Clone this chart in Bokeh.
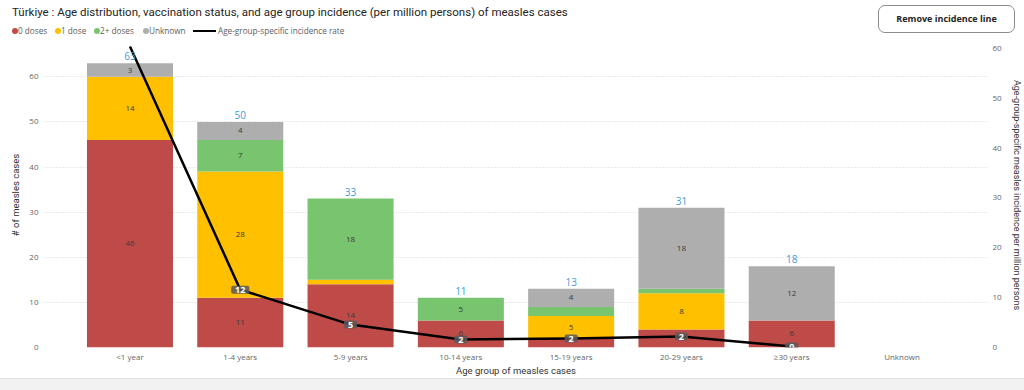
from bokeh.plotting import figure
from bokeh.layouts import column
from bokeh.models import (ColumnDataSource, FactorRange, Range1d, LinearAxis, LabelSet,
                          Label, FixedTicker, Div)
from bokeh.embed import file_html
from bokeh.resources import INLINE
from bokeh.core.properties import value

# ---------------- data ----------------
categories = ["<1 year", "1-4 years", "5-9 years", "10-14 years", "15-19 years",
              "20-29 years", "\u226530 years", "Unknown"]
dose0 = [46, 11, 14, 6, 2, 4, 6, 0]
dose1 = [14, 28, 1, 0, 5, 8, 0, 0]
dose2 = [0, 7, 18, 5, 2, 1, 0, 0]
unknown = [3, 4, 0, 0, 4, 18, 12, 0]
incidence_cats = categories[:7]
incidence = [60.4, 11.6, 4.6, 1.6, 1.8, 2.2, 0.2]
y_ticks = [0, 10, 20, 30, 40, 50, 60]

series_names = ["0 doses", "1 dose", "2+ doses", "Unknown"]
series_keys = ["d0", "d1", "d2", "unk"]
series_colors = ["#BE4B48", "#FFC000", "#79C46E", "#AEAEAE"]

title_text = ("T\u00fcrkiye : Age distribution, vaccination status, and age group incidence "
              "(per million persons) of measles cases")
line_legend_text = "Age-group-specific incidence rate"
button_text = "Remove incidence line"

FONT = "Open Sans"
TFONT = "Roboto"
W = 1024

# ---------------- header (title, legend, button) ----------------
legend_dot_x = [12, 55, 94, 143]
parts = [
    '<div style="position:relative;width:%dpx;height:42px;background:white;overflow:hidden;">' % W,
    '<span style="position:absolute;left:12px;top:5px;font-family:%s;font-size:11.5px;'
    'line-height:14px;color:#252423;white-space:nowrap;">%s</span>' % (TFONT, title_text),
]
for name, col, dx in zip(series_names, series_colors, legend_dot_x):
    parts.append('<span style="position:absolute;left:%dpx;top:28px;width:6px;height:6px;'
                 'border-radius:50%%;background:%s;"></span>' % (dx, col))
    parts.append('<span style="position:absolute;left:%dpx;top:25px;font-family:%s;font-size:8.2px;'
                 'line-height:12px;color:#605E5C;white-space:nowrap;">%s</span>'
                 % (dx + 6, FONT, name))
parts.append('<span style="position:absolute;left:193px;top:30px;width:23px;height:2px;'
             'background:black;"></span>')
parts.append('<span style="position:absolute;left:218px;top:25px;font-family:%s;font-size:8.2px;'
             'line-height:12px;color:#605E5C;white-space:nowrap;">%s</span>' % (FONT, line_legend_text))
parts.append('<div style="position:absolute;left:878px;top:5px;width:137px;height:28px;'
             'box-sizing:border-box;border:1px solid #8c8c8c;border-radius:7px;background:white;'
             'display:flex;align-items:center;justify-content:center;font-family:%s;'
             'font-size:9px;font-weight:bold;color:#252423;white-space:nowrap;">%s</div>'
             % (FONT, button_text))
parts.append('</div>')
header = Div(text="".join(parts), width=W, height=42, margin=(0, 0, 0, 0))

# ---------------- main chart ----------------
p = figure(width=W, height=336,
           x_range=FactorRange(factors=categories, range_padding=0.275, range_padding_units="absolute"),
           y_range=Range1d(0, 67.6),
           output_backend="svg", toolbar_location=None,
           min_border_left=44, min_border_right=36, min_border_top=0, min_border_bottom=28)
p.extra_y_ranges = {"inc": Range1d(0, 61.2)}
p.outline_line_color = None
p.background_fill_color = "white"
p.border_fill_color = "white"
p.margin = (0, 0, 0, 0)

src = ColumnDataSource(dict(age=categories, d0=dose0, d1=dose1, d2=dose2, unk=unknown))
p.vbar_stack(series_keys, x="age", width=0.78, fill_color=series_colors,
             line_color=None, source=src)

# segment labels
seg_x, seg_y, seg_t = [], [], []
for i, c in enumerate(categories):
    base = 0
    for vals in (dose0, dose1, dose2, unknown):
        v = vals[i]
        if v >= 3:
            seg_x.append(c)
            seg_y.append(base + v / 2)
            seg_t.append(str(v))
        base += v
seg_src = ColumnDataSource(dict(x=seg_x, y=seg_y, t=seg_t))
p.add_layout(LabelSet(x="x", y="y", text="t", source=seg_src, text_align="center",
                      text_baseline="middle", text_font=value(FONT), text_font_size="8px",
                      text_color="#3a3a3a"))

# total labels
tot_x, tot_y, tot_t = [], [], []
for i, c in enumerate(categories):
    t = dose0[i] + dose1[i] + dose2[i] + unknown[i]
    if t > 0:
        tot_x.append(c)
        tot_y.append(t)
        tot_t.append(str(t))
tot_src = ColumnDataSource(dict(x=tot_x, y=tot_y, t=tot_t))
p.add_layout(LabelSet(x="x", y="y", text="t", source=tot_src, text_align="center",
                      text_baseline="bottom", y_offset=3, text_font=value(FONT),
                      text_font_size="10px", text_color="#3F9BD8"))

# incidence line
p.line(x=incidence_cats, y=incidence, y_range_name="inc", line_color="black",
       line_width=2.5, line_join="round")
for i, v in enumerate(incidence):
    if v < 55:
        # synthetic coordinate of category i on the factor range is i + 0.5
        p.add_layout(Label(x=i + 0.5, y=v, y_range_name="inc", text=str(int(round(v))),
                           text_align="center", text_baseline="middle",
                           text_font=FONT, text_font_size="9px",
                           text_font_style="bold", text_color="white",
                           background_fill_color="#5a5a5a", background_fill_alpha=0.85,
                           padding=(4, 1), border_radius=2))

# axes
p.ygrid.grid_line_color = "#d4d4d4"
p.ygrid.grid_line_dash = "1 2"
p.xgrid.grid_line_color = None

yl = p.yaxis[0]
yl.ticker = FixedTicker(ticks=y_ticks)
yl.axis_label = "# of measles cases"
yl.bounds = (0, 66.7)

yr = LinearAxis(y_range_name="inc", ticker=FixedTicker(ticks=y_ticks),
                axis_label="Age-group-specific measles incidence per million persons")
p.add_layout(yr, "right")

p.xaxis.axis_label = "Age group of measles cases"

for ax in p.axis:
    ax.axis_line_color = None
    ax.major_tick_line_color = None
    ax.minor_tick_line_color = None
    ax.major_tick_in = 0
    ax.major_tick_out = 0
    ax.minor_tick_in = 0
    ax.minor_tick_out = 0
    ax.major_label_text_font = FONT
    ax.major_label_text_font_size = "8px"
    ax.major_label_text_color = "#666666"
    ax.axis_label_text_font = TFONT
    ax.axis_label_text_font_style = "normal"
    ax.axis_label_text_color = "#333333"
    ax.axis_label_text_font_size = "9.5px"

yl.major_label_standoff = 6
yl.axis_label_standoff = 5
yr.major_label_standoff = 5
yr.axis_label_standoff = 7
yr.axis_label_text_font_size = "9px"
p.xaxis.major_label_standoff = 3
p.xaxis.axis_label_standoff = 0

# bottom band of the visual container
footer = Div(text='<div style="width:%dpx;height:12px;background:#f2f2f2;'
                  'border-top:1px solid #e2e2e2;box-sizing:border-box;"></div>' % W,
             width=W, height=12, margin=(0, 0, 0, 0))

layout = column(header, p, footer, spacing=0)
open("out.html", "w").write(file_html(layout, INLINE))
